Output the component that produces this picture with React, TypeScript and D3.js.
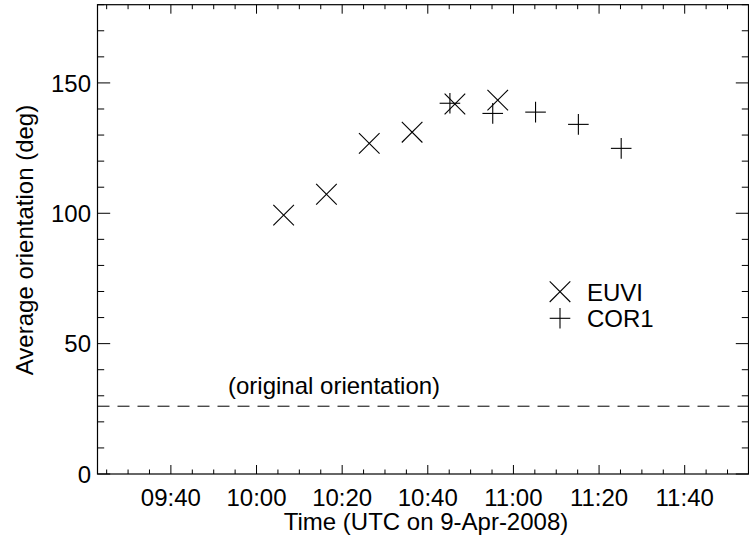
import React from "react";
import * as d3 from "d3";

// ---- data ----
const euviTimes = ["10:06:20", "10:16:20", "10:26:20", "10:36:20", "10:46:20", "10:56:20"];
const euviValues = [99.3, 107.3, 126.8, 131.1, 141.9, 143.4];
const cor1Times = ["10:45:10", "10:55:10", "11:05:10", "11:15:10", "11:25:10"];
const cor1Values = [142.2, 138.3, 138.8, 134.1, 124.9];
const xTickLabels = ["09:40", "10:00", "10:20", "10:40", "11:00", "11:20", "11:40"];
const yTickValues = [0, 50, 100, 150];
const originalOrientation = 26;
const legendLabels = ["EUVI", "COR1"];
const xAxisTitle = "Time (UTC on 9-Apr-2008)";
const yAxisTitle = "Average orientation (deg)";
const annotation = "(original orientation)";

const toMin = (s: string) => {
  const p = s.split(":").map(Number);
  return p[0] * 60 + p[1] + (p[2] || 0) / 60;
};

const W = 749;
const H = 537;
const L = 97.5;
const R = 748.5;
const T = 4.7;
const B = 474;
const FONT = "'Liberation Sans', Arial, Helvetica, sans-serif";
const FS = 24;

export default function App() {
  const x = d3.scaleLinear().domain([562.86, 714.9]).range([L, R]);
  const y = d3.scaleLinear().domain([0, 180]).range([B, T]);

  const xMajor = xTickLabels.map(toMin);
  const xMinor = d3.range(565, 715, 5).filter((m) => m % 20 !== 0);
  const yMinor = d3.range(0, 181, 10).filter((v) => v % 50 !== 0);

  const euvi = euviTimes.map((t, i) => ({ t: toMin(t), v: euviValues[i] }));
  const cor1 = cor1Times.map((t, i) => ({ t: toMin(t), v: cor1Values[i] }));

  const ms = 10.3;
  const cross = (cx: number, cy: number, k: string) => (
    <g key={k}>
      <line x1={cx - ms} y1={cy - ms} x2={cx + ms} y2={cy + ms} stroke="#000" strokeWidth={1.1} />
      <line x1={cx - ms} y1={cy + ms} x2={cx + ms} y2={cy - ms} stroke="#000" strokeWidth={1.1} />
    </g>
  );
  const plus = (cx: number, cy: number, k: string) => (
    <g key={k}>
      <line x1={cx - ms} y1={cy} x2={cx + ms} y2={cy} stroke="#000" strokeWidth={1.1} />
      <line x1={cx} y1={cy - ms} x2={cx} y2={cy + ms} stroke="#000" strokeWidth={1.1} />
    </g>
  );

  const xMajLen = 9;
  const xMinLen = 4.5;
  const yMajLen = 12.7;
  const yMinLen = 6.7;

  return (
    <svg
      width={W}
      height={H}
      style={{ position: "fixed", left: 0, top: 0, background: "#fff" }}
      fontFamily={FONT}
    >
      <rect x={0} y={0} width={W} height={H} fill="#fff" />
      {/* frame */}
      <rect x={L} y={T} width={R - L} height={B - T} fill="none" stroke="#000" strokeWidth={1.2} />
      {/* x ticks bottom & top */}
      {xMajor.map((m, i) => (
        <g key={"xm" + i}>
          <line x1={x(m)} x2={x(m)} y1={B} y2={B - xMajLen} stroke="#000" />
          <line x1={x(m)} x2={x(m)} y1={T} y2={T + xMajLen} stroke="#000" />
          <text x={x(m)} y={505.5} textAnchor="middle" fontSize={FS}>
            {xTickLabels[i]}
          </text>
        </g>
      ))}
      {xMinor.map((m, i) => (
        <g key={"xn" + i}>
          <line x1={x(m)} x2={x(m)} y1={B} y2={B - xMinLen} stroke="#000" />
          <line x1={x(m)} x2={x(m)} y1={T} y2={T + xMinLen} stroke="#000" />
        </g>
      ))}
      {/* y ticks left & right */}
      {yTickValues.map((v, i) => (
        <g key={"ym" + i}>
          <line x1={L} x2={L + yMajLen} y1={y(v)} y2={y(v)} stroke="#000" />
          <line x1={R} x2={R - yMajLen} y1={y(v)} y2={y(v)} stroke="#000" />
          <text x={91} y={y(v) + 8.6} textAnchor="end" fontSize={FS}>
            {String(v)}
          </text>
        </g>
      ))}
      {yMinor.map((v, i) => (
        <g key={"yn" + i}>
          <line x1={L} x2={L + yMinLen} y1={y(v)} y2={y(v)} stroke="#000" />
          <line x1={R} x2={R - yMinLen} y1={y(v)} y2={y(v)} stroke="#000" />
        </g>
      ))}
      {/* axis titles */}
      <text x={426} y={530} textAnchor="middle" fontSize={FS}>
        {xAxisTitle}
      </text>
      <text
        transform={`translate(32.5, ${240}) rotate(-90)`}
        textAnchor="middle"
        fontSize={FS}
      >
        {yAxisTitle}
      </text>
      {/* dashed line */}
      <line
        x1={L}
        x2={R}
        y1={y(originalOrientation)}
        y2={y(originalOrientation)}
        stroke="#000"
        strokeWidth={1}
        strokeDasharray="12,8"
      />
      <text x={228} y={394} fontSize={FS}>
        {annotation}
      </text>
      {/* data */}
      {euvi.map((d, i) => cross(x(d.t), y(d.v), "e" + i))}
      {cor1.map((d, i) => plus(x(d.t), y(d.v), "c" + i))}
      {/* legend */}
      {cross(560, 291.7, "le")}
      {plus(560, 318.3, "lc")}
      <text x={587} y={300.5} fontSize={FS}>
        {legendLabels[0]}
      </text>
      <text x={587} y={327} fontSize={FS}>
        {legendLabels[1]}
      </text>
    </svg>
  );
}
